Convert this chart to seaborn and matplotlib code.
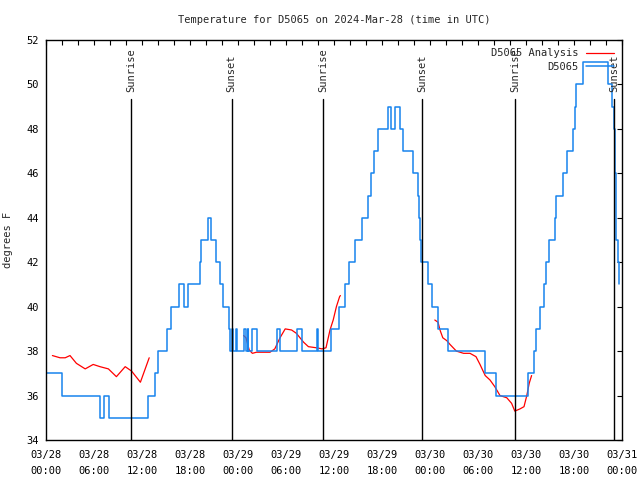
import pandas as pd
import numpy as np
import matplotlib
matplotlib.use("Agg")
import matplotlib.pyplot as plt
import seaborn as sns
from matplotlib.lines import Line2D

# observed temperature (hours since 03/28 00:00 UTC, deg F), stepped
obs_hours = [0, 2.0, 6.7, 7.3, 7.9, 12.8, 13.6, 14.0, 15.1, 15.6, 16.6, 17.2, 17.7, 19.2, 19.35,
             20.3, 20.6, 21.3, 21.7, 22.1, 22.85, 23.05, 23.3, 23.4, 23.75, 23.9, 24.75, 25.0,
             25.2, 25.3, 25.8, 26.4, 28.9, 29.2, 31.4, 32.0, 33.9, 34.0, 35.6, 36.6, 37.4, 37.9,
             38.6, 39.5, 40.2, 40.6, 41.0, 41.5, 42.8, 43.1, 43.6, 44.2, 44.6, 45.9, 46.5, 46.6,
             46.75, 46.9, 47.7, 48.3, 49.0, 50.3, 54.9, 56.3, 60.2, 61.0, 61.3, 61.7, 62.2, 62.5,
             62.9, 63.6, 63.8, 64.6, 65.1, 65.9, 66.1, 66.3, 67.1, 70.3, 70.8, 71.0, 71.1, 71.2,
             71.3, 71.45, 71.6, 71.65]
obs_temp = [37, 36, 35, 36, 35, 36, 37, 38, 39, 40, 41, 40, 41, 42, 43,
            44, 43, 42, 41, 40, 39, 38, 39, 38, 39, 38, 39, 38,
            39, 38, 39, 38, 39, 38, 39, 38, 39, 38, 39, 40, 41, 42,
            43, 44, 45, 46, 47, 48, 49, 48, 49, 48, 47, 46, 45, 44,
            43, 42, 41, 40, 39, 38, 37, 36, 37, 38, 39, 40, 41, 42,
            43, 44, 45, 46, 47, 48, 49, 50, 51, 50, 49, 48, 46, 44,
            43, 42, 41, 41]

# analysis temperature, three separate runs
ana1_hours = [0.8, 1.75, 2.4, 3.0, 3.8, 4.9, 5.9, 6.75, 7.8, 8.8, 9.9, 10.7, 11.8, 12.4, 12.9]
ana1_temp = [37.8, 37.7, 37.7, 37.8, 37.45, 37.2, 37.4, 37.3, 37.2, 36.85, 37.3, 37.1, 36.6, 37.2, 37.7]
ana2_hours = [24.7, 25.0, 25.4, 25.8, 26.3, 27.4, 28.0, 28.6, 29.25, 29.9, 30.7, 31.3, 32.2, 32.8,
              33.8, 34.5, 35.0, 35.5, 35.9, 36.3, 36.7, 36.8]
ana2_temp = [38.7, 38.6, 38.05, 37.9, 37.95, 37.95, 37.95, 38.1, 38.6, 39.0, 38.95, 38.8, 38.4, 38.2,
             38.15, 38.1, 38.15, 38.95, 39.4, 40.0, 40.45, 40.5]
ana3_hours = [48.6, 49.0, 49.25, 49.6, 50.1, 50.5, 51.3, 52.2, 53.0, 53.75, 54.25, 54.9, 55.5, 56.1,
              56.75, 57.6, 58.2, 58.6, 59.25, 59.75, 60.1, 60.4, 60.7]
ana3_temp = [39.4, 39.3, 38.95, 38.6, 38.47, 38.3, 38.0, 37.9, 37.9, 37.75, 37.4, 36.9, 36.7, 36.4,
             36.0, 35.9, 35.65, 35.3, 35.4, 35.5, 36.0, 36.55, 36.9]

# sunrise / sunset (hours)
sun_hours = [10.6, 23.2, 34.6, 47.05, 58.6, 71.0]
sun_labels = ["Sunrise", "Sunset", "Sunrise", "Sunset", "Sunrise", "Sunset"]

xtick_hours = list(range(0, 73, 6))
xtick_labels = ["03/28\n00:00", "03/28\n06:00", "03/28\n12:00", "03/28\n18:00",
                "03/29\n00:00", "03/29\n06:00", "03/29\n12:00", "03/29\n18:00",
                "03/30\n00:00", "03/30\n06:00", "03/30\n12:00", "03/30\n18:00",
                "03/31\n00:00"]

obs = pd.DataFrame({"hours": obs_hours, "temp": obs_temp})
ana = pd.concat([
    pd.DataFrame({"hours": ana1_hours, "temp": ana1_temp, "run": 1}),
    pd.DataFrame({"hours": ana2_hours, "temp": ana2_temp, "run": 2}),
    pd.DataFrame({"hours": ana3_hours, "temp": ana3_temp, "run": 3}),
])

sns.set_style("white")
plt.rcParams["font.family"] = ["DejaVu Sans Mono", "DejaVu Sans"]
fs = 7.5
blue = "#1884ee"

fig = plt.figure(figsize=(6.4, 4.8), dpi=100)
ax = fig.add_axes([46 / 640, 40 / 480, 576 / 640, 400 / 480])

sns.lineplot(data=ana, x="hours", y="temp", units="run", estimator=None,
             color="red", lw=0.9, ax=ax, legend=False)
sns.lineplot(data=obs, x="hours", y="temp", estimator=None, drawstyle="steps-post",
             color=blue, lw=1.1, ax=ax, legend=False)

for h, lab in zip(sun_hours, sun_labels):
    ax.axvline(h, ymin=0, ymax=(49.35 - 34) / 18, color="black", lw=1)
    ax.text(h, 49.65, lab, rotation=90, ha="center", va="bottom", fontsize=fs)

ax.set_xlim(0, 72)
ax.set_ylim(34, 52)
ax.set_xticks(range(0, 73, 2))
ax.set_xticklabels([xtick_labels[xtick_hours.index(h)] if h in xtick_hours else ""
                    for h in range(0, 73, 2)], linespacing=1.75)
ax.set_yticks(range(34, 53, 2))
ax.tick_params(axis="both", direction="in", length=3.5, width=0.8,
               top=True, right=True, labelsize=fs, colors="black")
ax.tick_params(axis="x", pad=7)
ax.tick_params(axis="y", pad=5)
for s in ax.spines.values():
    s.set_color("black")
    s.set_linewidth(1)

ax.set_xlabel("")
ax.set_ylabel("degrees F", fontsize=fs, labelpad=10)
ax.set_title("Temperature for D5065 on 2024-Mar-28 (time in UTC)", fontsize=fs, pad=12)

handles = [Line2D([], [], color="red", lw=0.9), Line2D([], [], color=blue, lw=1.1)]
ax.legend(handles, ["D5065 Analysis", "D5065"], loc="upper right", frameon=False,
          markerfirst=False, fontsize=fs, handlelength=2.7, handletextpad=0.7,
          labelspacing=0.35, bbox_to_anchor=(1.0, 1.0), borderaxespad=0.4)

fig.savefig("out.png", dpi=100)
